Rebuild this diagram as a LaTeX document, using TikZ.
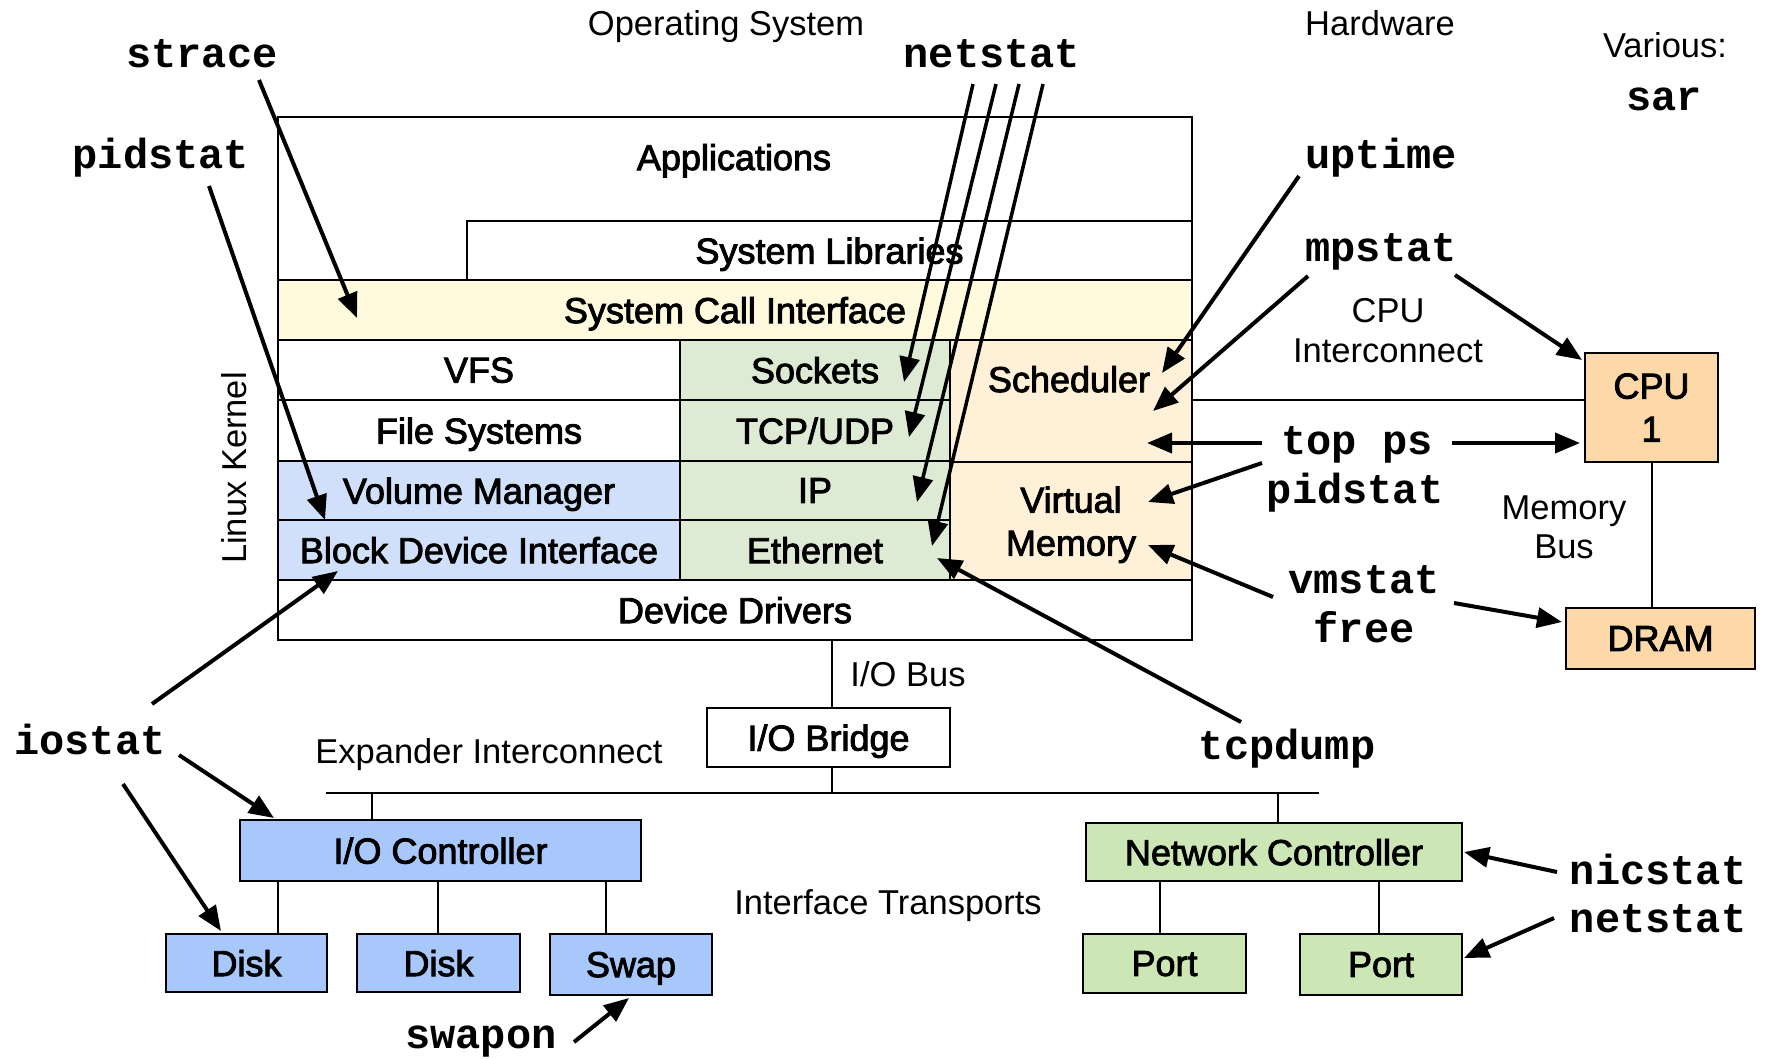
\documentclass[tikz,border=0pt]{standalone}
\usepackage{fontspec}
\setmainfont{Liberation Sans}
\newfontfamily\boxfont{Liberation Sans}[FakeBold=2.5]
\newfontfamily\cmdfont{Liberation Mono}
\usetikzlibrary{arrows.meta,calc}
\definecolor{sysyel}{RGB}{255,250,222}
\definecolor{grnL}{RGB}{222,235,212}
\definecolor{bluL}{RGB}{209,224,250}
\definecolor{orgL}{RGB}{255,241,216}
\definecolor{bluD}{RGB}{168,199,250}
\definecolor{grnD}{RGB}{204,230,182}
\definecolor{peach}{RGB}{253,216,168}
\begin{document}
\begin{tikzpicture}[x=1pt,y=-1pt,
  lay/.style={draw=black, line width=2.5pt, anchor=north west, inner sep=0pt, outer sep=0pt, align=center,
    text depth=0pt, font=\boxfont\fontsize{36}{43}\selectfont},
  boxtxt/.style={inner sep=0pt, align=center, text depth=0pt, font=\boxfont\fontsize{36}{43}\selectfont},
  lbl/.style={inner sep=0pt, align=center, text depth=0pt, font=\fontsize{34.5}{40}\selectfont},
  cmd/.style={inner sep=0pt, text depth=0pt, font=\cmdfont\bfseries\fontsize{42}{48}\selectfont},
  arr/.style={line width=4pt, -{Triangle[length=25pt,width=20pt]}},
  wire/.style={line width=2pt},
]
\useasboundingbox (0,0) rectangle (1766,1058);
\fill[white] (0,0) rectangle (1766,1058);

% ---- kernel stack ----
\node[lay, minimum width=914pt, minimum height=523pt] (kernel) at (278,117) {};
\node[lay, minimum width=725pt, minimum height=59pt] (syslib) at (467,221) {System Libraries};
\node[boxtxt] (apps) at (734,157) {Applications};
\node[lay, fill=sysyel, minimum width=914pt, minimum height=60pt] (sci) at (278,280) {System Call Interface};
\node[lay, minimum width=402pt, minimum height=60pt] (vfs) at (278,340) {VFS};
\node[lay, minimum width=402pt, minimum height=61pt] (fs) at (278,400) {File Systems};
\node[lay, fill=bluL, minimum width=402pt, minimum height=59pt] (volm) at (278,461) {Volume Manager};
\node[lay, fill=bluL, minimum width=402pt, minimum height=60pt] (bdi) at (278,520) {Block Device Interface};
\node[lay, fill=grnL, minimum width=270pt, minimum height=60pt] (sock) at (680,340) {Sockets};
\node[lay, fill=grnL, minimum width=270pt, minimum height=61pt] (tcp) at (680,400) {TCP/UDP};
\node[lay, fill=grnL, minimum width=270pt, minimum height=59pt] (ip) at (680,461) {IP};
\node[lay, fill=grnL, minimum width=270pt, minimum height=60pt] (eth) at (680,520) {Ethernet};
\node[lay, fill=orgL, minimum width=242pt, minimum height=122pt] (sched) at (950,340) {};
\node[boxtxt] (schedt) at (1069,379) {Scheduler};
\node[lay, fill=orgL, minimum width=242pt, minimum height=118pt] (vmem) at (950,462) {Virtual\\Memory};
\node[lay, minimum width=914pt, minimum height=60pt] (dd) at (278,580) {Device Drivers};

% ---- hardware ----
\node[lay, fill=peach, minimum width=133pt, minimum height=109pt] (cpu) at (1585,353) {CPU\\1};
\node[lay, fill=peach, minimum width=189pt, minimum height=61pt] (dram) at (1566,608) {DRAM};
\node[lay, fill=white, minimum width=243pt, minimum height=59pt] (bridge) at (707,708) {I/O Bridge};
\node[lay, fill=bluD, minimum width=401pt, minimum height=61pt] (ioc) at (240,820) {I/O Controller};
\node[lay, fill=bluD, minimum width=161pt, minimum height=58pt] (disk1) at (166,934) {Disk};
\node[lay, fill=bluD, minimum width=163pt, minimum height=58pt] (disk2) at (357,934) {Disk};
\node[lay, fill=bluD, minimum width=162pt, minimum height=61pt] (swap) at (550,934) {Swap};
\node[lay, fill=grnD, minimum width=376pt, minimum height=58pt] (nic) at (1086,823) {Network Controller};
\node[lay, fill=grnD, minimum width=163pt, minimum height=59pt] (port1) at (1083,934) {Port};
\node[lay, fill=grnD, minimum width=162pt, minimum height=61pt] (port2) at (1300,934) {Port};

% ---- wires ----
\coordinate (ci) at (1192,400);
\draw[wire] (ci) -- (ci -| cpu.west);
\draw[wire] (cpu.south) -- (cpu.south |- dram.north);
\coordinate (iob) at (832,640);
\draw[wire] (iob) -- (iob |- bridge.north);
\coordinate (busL) at (326,793);
\coordinate (busR) at (1319,793);
\draw[line width=2.5pt] (busL) -- (busR);
\draw[wire] (iob |- bridge.south) -- (iob |- busL);
\coordinate (tapio) at (372,793);
\draw[wire] (tapio) -- (tapio |- ioc.north);
\coordinate (tapnet) at (1278,793);
\draw[wire] (tapnet) -- (tapnet |- nic.north);
\coordinate (td1) at (278,0);
\coordinate (td2) at (438,0);
\coordinate (td3) at (606,0);
\draw[wire] (ioc.south -| td1) -- (disk1.north -| td1);
\draw[wire] (ioc.south -| td2) -- (disk2.north -| td2);
\draw[wire] (ioc.south -| td3) -- (swap.north -| td3);
\coordinate (tp1) at (1160,0);
\coordinate (tp2) at (1379,0);
\draw[wire] (nic.south -| tp1) -- (port1.north -| tp1);
\draw[wire] (nic.south -| tp2) -- (port2.north -| tp2);

% ---- plain labels ----
\node[lbl] (os) at (726,23) {Operating System};
\node[lbl] (hwl) at (1380,23) {Hardware};
\node[lbl] (various) at (1665,45) {Various:};
\node[lbl, font=\fontsize{34.5}{40}\selectfont] (cpuic) at (1388,330) {CPU\\Interconnect};
\node[lbl, font=\fontsize{34.5}{39}\selectfont] (membus) at (1564,527) {Memory\\Bus};
\node[lbl] (iobus) at (908,674) {I/O Bus};
\node[lbl] (expic) at (489,751) {Expander Interconnect};
\node[lbl] (ift) at (888,902) {Interface Transports};
\node[lbl, rotate=90] (lk) at (234,468) {Linux Kernel};

% ---- tool names ----
\node[cmd] (sar) at (1664,99) {sar};
\node[cmd] (strace) at (202,54) {strace};
\node[cmd] (netstatA) at (992,54) {netstat};
\node[cmd] (pidstatA) at (161,153) {pidstat};
\node[cmd] (uptime) at (1381,153) {uptime};
\node[cmd] (mpstat) at (1381,248) {mpstat};
\node[cmd] (topps) at (1357,441) {top ps};
\node[cmd] (pidstatB) at (1355,488) {pidstat};
\node[cmd] (vmstat) at (1364,580) {vmstat};
\node[cmd] (free) at (1364,627) {free};
\node[cmd] (tcpdump) at (1287,744) {tcpdump};
\node[cmd] (iostat) at (90,739) {iostat};
\node[cmd] (nicstat) at (1658,869) {nicstat};
\node[cmd] (netstatB) at (1658,918) {netstat};
\node[cmd] (swapon) at (481,1037) {swapon};

% ---- arrow end points ----
\coordinate (a1s) at (259,80);   \coordinate (a1e) at (357,318);
\coordinate (a2s) at (209,186);  \coordinate (a2e) at (325,520);
\coordinate (n1s) at (973,84);   \coordinate (n1e) at (904,382);
\coordinate (n2s) at (996,84);   \coordinate (n2e) at (909,437);
\coordinate (n3s) at (1019,84);  \coordinate (n3e) at (917,502);
\coordinate (n4s) at (1043,84);  \coordinate (n4e) at (932,546);
\coordinate (u1s) at (1299,176); \coordinate (u1e) at (1162,373);
\coordinate (m1s) at (1308,276); \coordinate (m1e) at (1153,411);
\coordinate (m2s) at (1455,275); \coordinate (m2e) at (1582,360);
\coordinate (t1s) at (1262,443); \coordinate (t1e) at (1147,443);
\coordinate (t2s) at (1452,443); \coordinate (t2e) at (1580,443);
\coordinate (p1s) at (1262,463); \coordinate (p1e) at (1148,502);
\coordinate (v1s) at (1273,597); \coordinate (v1e) at (1148,545);
\coordinate (f1s) at (1454,603); \coordinate (f1e) at (1562,622);
\coordinate (d1s) at (1241,722); \coordinate (d1e) at (937,558);
\coordinate (i1s) at (152,704);  \coordinate (i1e) at (338,571);
\coordinate (i2s) at (179,755);  \coordinate (i2e) at (274,818);
\coordinate (i3s) at (123,784);  \coordinate (i3e) at (221,931);
\coordinate (s1s) at (574,1042); \coordinate (s1e) at (629,998);
\coordinate (c1s) at (1557,872); \coordinate (c1e) at (1464,852);
\coordinate (c2s) at (1554,918); \coordinate (c2e) at (1464,958);

\draw[arr] (a1s) -- (a1e);
\draw[arr] (a2s) -- (a2e);
\draw[arr, line width=3.5pt] (n1s) -- (n1e);
\draw[arr, line width=3.5pt] (n2s) -- (n2e);
\draw[arr, line width=3.5pt] (n3s) -- (n3e);
\draw[arr, line width=3.5pt] (n4s) -- (n4e);
\draw[arr] (u1s) -- (u1e);
\draw[arr] (m1s) -- (m1e);
\draw[arr] (m2s) -- (m2e);
\draw[arr] (t1s) -- (t1e);
\draw[arr] (t2s) -- (t2e);
\draw[arr] (p1s) -- (p1e);
\draw[arr] (v1s) -- (v1e);
\draw[arr] (f1s) -- (f1e);
\draw[arr] (d1s) -- (d1e);
\draw[arr] (i1s) -- (i1e);
\draw[arr] (i2s) -- (i2e);
\draw[arr] (i3s) -- (i3e);
\draw[arr] (s1s) -- (s1e);
\draw[arr] (c1s) -- (c1e);
\draw[arr] (c2s) -- (c2e);
\end{tikzpicture}
\end{document}
